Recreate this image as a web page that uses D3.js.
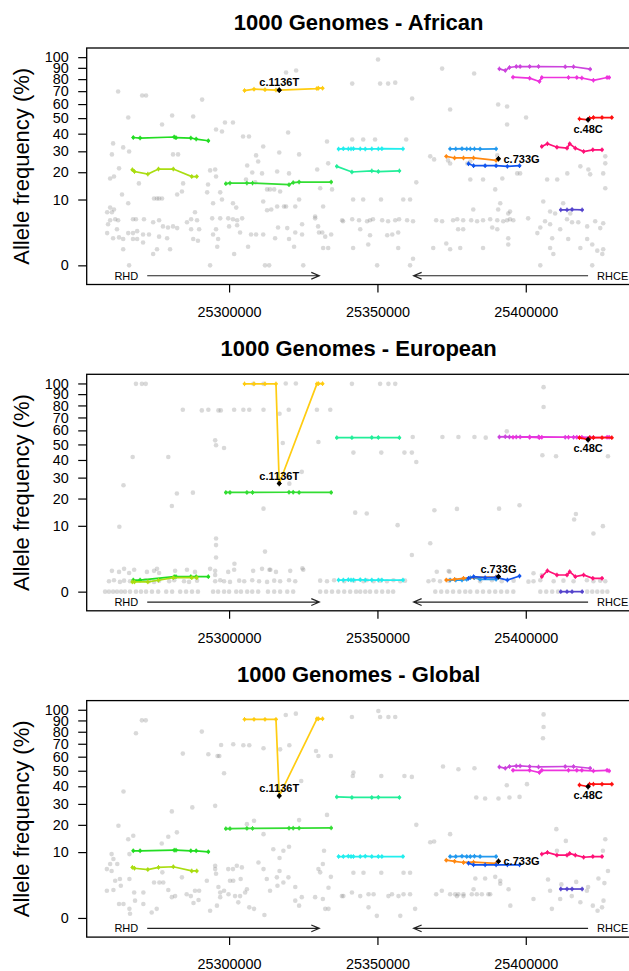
<!DOCTYPE html>
<html>
<head>
<meta charset="utf-8">
<script src="https://cdn.jsdelivr.net/npm/d3@7"></script>
<style>
  body { margin: 0; background: #fff; }
  svg { display: block; }
</style>
</head>
<body>
<svg id="chart"></svg>
<script>
/*------------------------
  ------ VARIABLES -------
  ------------------------*/

// input
var titles = ["1000 Genomes - African", "1000 Genomes - European", "1000 Genomes - Global"] ;
var y_label = "Allele frequency (%)" ;
var y_ticks = [0, 10, 20, 30, 40, 50, 60, 70, 80, 90, 100] ;
var x_ticks = [25300, 25350, 25400] ;   // kb

var gene_names = ["RHD", "RHCE"] ;
var gene_from  = [25272.4, 25421.0] ;
var gene_to    = [25330.4, 25362.2] ;

var mark_names = ["c.1136T", "c.733G", "c.48C"] ;
var mark_pos   = [25316.9, 25390.8, 25421.0] ;
var mark_afr   = [70.8, 26.2, 48.9] ;
var mark_eur   = [27.0, 0.52, 53.3] ;
var mark_glb   = [34.4, 7.4, 39.8] ;

// haplotype blocks
var hap_colors = ["#22dd22", "#aadd11", "#33dd33", "#ffcc11", "#22eeee", "#22ee99", "#2299ee",
                  "#ff8811", "#1155ee", "#cc44dd", "#ee33dd", "#ff1111", "#ff1177", "#5544cc"] ;
var hap_pos = [
  [25267.7, 25270.0, 25281.5, 25282.1, 25287.1, 25288.9, 25293.0],
  [25267.4, 25268.1, 25272.6, 25276.2, 25281.2, 25287.4, 25289.1],
  [25298.9, 25300.3, 25306.0, 25307.9, 25320.2, 25321.6, 25323.6, 25334.4],
  [25305.2, 25308.4, 25312.1, 25315.8, 25316.9, 25329.6, 25330.1, 25331.5],
  [25336.9, 25338.5, 25340.2, 25341.1, 25341.9, 25344.2, 25345.9, 25348.1, 25350.3, 25351.5, 25358.6],
  [25336.3, 25341.4, 25348.1, 25350.3, 25357.4],
  [25374.5, 25376.4, 25378.5, 25380.1, 25381.3, 25382.7, 25384.6, 25390.0],
  [25373.2, 25376.0, 25379.0, 25382.4, 25390.0, 25390.8],
  [25380.7, 25382.4, 25386.3, 25390.0, 25393.8, 25397.9],
  [25391.1, 25393.1, 25394.5, 25396.8, 25398.1, 25401.3, 25404.3, 25413.3, 25416.1, 25421.7],
  [25395.7, 25401.3, 25404.6, 25405.4, 25414.4, 25417.2, 25418.9, 25422.8, 25427.4, 25428.1],
  [25418.1, 25421.0, 25421.5, 25422.8, 25425.7, 25429.0],
  [25405.4, 25407.3, 25410.5, 25413.9, 25414.8, 25416.7, 25419.5, 25422.6, 25425.7],
  [25411.8, 25413.9, 25415.6, 25419.0]
] ;
var hap_afr = [
  [37.7, 37.4, 38.0, 37.6, 37.4, 36.8, 35.8],
  [21.1, 20.3, 19.2, 21.4, 21.4, 18.2, 18.2],
  [15.4, 15.6, 15.6, 15.6, 15.0, 15.8, 16.0, 16.0],
  [70.5, 71.6, 71.2, 70.9, 70.8, 72.1, 72.4, 72.4],
  [31.2, 31.4, 31.3, 31.3, 31.4, 31.3, 31.2, 31.3, 31.3, 31.4, 31.3],
  [22.6, 20.1, 20.6, 20.3, 20.6],
  [31.3, 31.3, 31.4, 31.3, 31.3, 31.3, 31.2, 31.3],
  [27.4, 26.6, 26.6, 26.6, 25.4, 26.2],
  [23.8, 22.9, 22.9, 22.9, 22.6, 22.9],
  [89.1, 87.6, 90.3, 91.2, 91.2, 91.2, 91.2, 91.0, 91.0, 88.8],
  [81.7, 80.8, 78.0, 81.4, 81.4, 81.4, 81.0, 79.0, 81.4, 81.4],
  [49.5, 48.9, 50.0, 50.4, 50.4, 50.4],
  [32.6, 34.1, 32.2, 31.7, 34.1, 31.7, 29.9, 30.8, 30.8],
  [7.1, 7.1, 7.2, 7.1]
] ;
var hap_eur = [
  [0.31, 0.31, 0.52, 0.52, 0.52, 0.52, 0.52],
  [0.22, 0.22, 0.22, 0.3, 0.45, 0.45, 0.45],
  [22.7, 22.7, 22.7, 22.7, 22.8, 22.8, 22.7, 22.7],
  [99.6, 99.6, 99.6, 99.6, 27.0, 99.6, 99.8, 99.8],
  [0.31, 0.31, 0.33, 0.31, 0.31, 0.33, 0.31, 0.31, 0.31, 0.31, 0.31],
  [54.7, 54.7, 54.8, 54.8, 54.7],
  [0.31, 0.31, 0.31, 0.35, 0.45, 0.45, 0.35, 0.35],
  [0.31, 0.35, 0.41, 0.47, 0.5, 0.52],
  [0.41, 0.52, 0.45, 0.47, 0.31, 0.56],
  [55.2, 55.4, 55.2, 55.2, 55.2, 55.2, 55.2, 55.0, 55.0, 54.7],
  [55.0, 55.0, 54.8, 55.0, 55.0, 55.0, 55.0, 54.8, 55.0, 55.0],
  [54.7, 53.3, 54.7, 54.7, 54.7, 54.7],
  [0.52, 1.01, 0.64, 0.64, 0.92, 0.52, 0.64, 0.41, 0.41],
  [0, 0, 0, 0]
] ;
var hap_glb = [
  [10.4, 10.4, 10.6, 10.6, 10.4, 10.4, 10.1],
  [5.9, 5.7, 5.4, 5.9, 6.05, 5.1, 5.1],
  [18.4, 18.4, 18.5, 18.5, 18.6, 18.6, 18.6, 18.7],
  [91.0, 91.0, 91.0, 91.0, 34.4, 91.5, 91.5, 91.5],
  [8.7, 8.7, 8.8, 8.7, 8.7, 8.7, 8.8, 8.7, 8.7, 8.7, 8.7],
  [33.8, 33.5, 33.5, 33.6, 33.5],
  [8.7, 8.7, 8.8, 8.7, 8.7, 8.8, 8.7, 8.7],
  [7.7, 7.4, 7.1, 7.2, 6.9, 7.4],
  [6.9, 6.5, 6.5, 6.5, 6.5, 6.5],
  [52.6, 51.7, 52.9, 53.3, 53.3, 52.9, 52.6, 52.9, 52.9, 51.7],
  [50.3, 50.3, 48.8, 50.3, 50.3, 50.3, 50.3, 49.9, 50.3, 49.9],
  [40.8, 39.8, 41.3, 41.3, 41.3, 41.3],
  [9.4, 9.9, 9.1, 9.1, 9.6, 9.1, 8.5, 8.7, 8.7],
  [1.93, 1.93, 1.93, 1.93]
] ;

// other variants [kb, %]
var gray_afr = [
[25262.6,69.7],[25270.7,66.5],[25272.0,66.5],[25266.0,50.4],[25280.8,51.8],[25287.9,51.1],[25290.9,63.4],[25277.4,45.8],
[25260.9,34.3],[25264.3,32.1],[25266.3,29.9],[25260.5,28.4],[25281.1,28.4],[25282.8,28.4],[25262.9,21.7],[25261.2,18.2],
[25259.9,17.4],[25284.5,15.5],[25269.6,15.5],[25284.1,12.6],[25282.5,11.6],[25263.9,11.6],[25266.0,8.9],[25274.7,10.3],
[25275.7,10.3],[25276.4,10.3],[25277.4,10.3],[25259.9,7.7],[25261.2,7.2],[25260.5,6.5],[25258.9,6.5],[25261.6,4.9],
[25262.6,4.7],[25259.9,4.7],[25259.2,3.9],[25262.2,3.0],[25258.9,2.4],[25260.9,1.7],[25262.9,1.8],[25264.3,1.6],
[25264.3,0.6],[25266.3,0],[25267.6,4.9],[25268.6,4.9],[25271.3,4.9],[25266.0,2.4],[25267.6,2.4],[25269.0,2.7],
[25271.0,2.2],[25273.0,2.2],[25267.6,1.6],[25269.0,1.6],[25271.0,1.2],[25274.4,4.3],[25276.4,4.7],[25277.7,3.5],
[25279.4,3.3],[25281.1,3.5],[25276.4,1.9],[25279.1,1.7],[25274.4,0.3],[25275.7,0.6],[25280.1,0.6],[25282.5,3.2],
[25285.8,4.3],[25287.2,4.9],[25289.2,4.7],[25288.5,6.5],[25287.2,3.0],[25289.9,3.0],[25287.9,1.6],[25289.5,1.4],
[25292.6,12.3],[25292.9,15.1],[25293.6,20.8],[25295.3,21.2],[25293.6,0],[25295.6,42.6],[25297.6,41.3],[25295.6,18.2],
[25297.0,12.3],[25297.6,10.0],[25294.6,8.9],[25294.3,5.1],[25297.0,5.1],[25295.6,3.0],[25294.6,2.2],[25296.3,1.6],
[25296.0,0.8],[25298.6,47.1],[25301.3,47.1],[25299.7,5.1],[25301.3,4.9],[25302.7,4.7],[25304.4,5.1],[25301.3,8.9],
[25302.4,7.7],[25300.0,3.5],[25302.7,3.7],[25303.7,2.5],[25301.7,0.3],[25304.7,38.3],[25306.7,38.3],[25306.1,23.0],
[25309.1,27.9],[25309.8,24.9],[25307.8,19.9],[25311.1,19.5],[25311.5,32.6],[25305.7,17.0],[25308.8,15.9],[25312.8,13.3],
[25313.8,13.3],[25315.2,13.3],[25314.2,7.2],[25311.5,9.4],[25312.8,7.0],[25316.2,8.0],[25318.5,8.0],[25319.2,8.0],
[25316.9,29.4],[25316.2,20.3],[25320.2,19.5],[25319.9,40.7],[25319.2,85.8],[25322.6,87.6],[25323.6,28.4],[25323.6,10.0],
[25317.2,12.6],[25322.3,8.0],[25316.5,3.3],[25319.6,3.2],[25322.3,2.5],[25324.6,3.9],[25307.4,2.2],[25309.1,2.2],
[25306.4,0.8],[25311.5,2.2],[25312.1,0],[25313.5,0],[25325.0,0],[25324.6,2.2],[25320.2,1.6],[25321.9,0.8],
[25315.5,1.7],[25329.7,21.2],[25329.0,5.1],[25330.0,3.5],[25330.3,2.5],
[25350.2,97.7],[25341.5,76.2],[25350.9,76.2],[25353.6,76.2],[25356.0,77.0],[25361.7,64.2],[25333.0,35.4],[25341.5,36.5],
[25345.2,36.5],[25349.2,36.5],[25359.7,36.5],[25333.4,24.0],[25363.1,15.9],[25330.7,13.7],[25334.7,13.3],[25331.7,8.0],
[25329.0,5.5],[25341.8,10.0],[25345.2,10.0],[25351.2,10.0],[25358.7,10.0],[25361.0,10.0],
[25338.1,4.7],[25338.4,4.5],[25341.5,4.9],[25343.8,4.7],[25346.5,4.5],[25347.5,4.7],[25348.5,4.9],[25351.6,4.7],
[25353.6,4.5],[25356.0,4.7],[25357.3,4.9],[25360.0,4.7],[25362.0,4.5],
[25331.4,2.5],[25332.4,1.9],[25334.4,2.2],[25344.2,3.0],[25347.5,2.1],[25353.3,2.1],[25355.0,2.2],[25357.0,2.5],
[25331.7,0.7],[25333.4,0.7],[25341.8,0.7],[25346.9,1.0],[25357.0,0.7],[25349.9,0],[25361.0,0],[25362.0,0.1],
[25371.8,89.3],[25382.6,84.9],[25374.5,56.0],[25390.7,59.7],[25393.7,58.2],[25393.7,45.8],[25400.1,50.4],
[25367.8,27.4],[25369.1,25.9],[25373.8,25.4],[25374.5,23.9],[25380.3,23.9],[25381.3,24.9],[25390.4,27.9],
[25381.3,17.0],[25385.6,17.0],[25389.7,13.3],[25392.1,17.4],[25397.1,19.5],[25398.1,19.5],[25407.2,17.0],[25410.6,17.0],
[25414.0,19.5],[25418.4,22.6],[25421.1,21.2],[25421.7,19.1],[25426.8,27.4],[25426.8,24.0],[25426.8,13.7],[25426.1,19.5],
[25382.3,7.2],[25391.4,8.9],[25390.7,7.2],[25394.7,6.7],[25394.1,6.2],[25400.8,5.1],[25405.9,9.4],[25408.2,6.7],
[25409.9,6.2],[25415.0,6.2],[25412.6,8.9],
[25369.8,4.7],[25371.8,4.5],[25375.5,4.7],[25376.9,4.9],[25378.9,4.7],[25381.6,4.7],[25383.6,4.5],[25385.6,4.7],
[25388.0,4.9],[25390.4,4.7],[25392.4,4.5],[25393.7,4.7],[25394.7,4.9],[25395.8,4.7],
[25390.4,3.0],[25388.7,3.3],[25406.5,4.5],[25408.2,3.9],[25411.6,3.0],[25413.9,4.9],[25415.6,4.3],[25417.7,4.3],
[25420.7,3.5],[25423.4,4.5],[25426.1,4.1],[25425.1,3.2],
[25368.8,0.7],[25373.2,1.1],[25374.5,0.6],[25377.9,0.7],[25377.2,3.0],[25378.9,3.0],[25385.6,0.7],[25394.1,1.7],
[25394.1,1.0],[25404.9,3.3],[25403.9,2.4],[25404.9,0],[25408.9,1.7],[25408.2,0.7],[25409.3,0.3],[25414.3,1.6],
[25418.4,0.7],[25420.7,1.6],[25422.4,1.0],[25424.1,0.5],[25425.8,0.3],[25426.1,0.6],[25422.4,0]
] ;

var gray_eur = [
[25268.6,99.6],[25270.6,99.6],[25271.9,99.6],[25267.5,41.8],[25264.4,26.1],[25263.0,9.7],[25279.5,41.8],[25282.4,22.2],
[25287.8,22.6],[25280.7,16.9],[25284.4,76.3],[25290.8,75.8],[25293.0,76.3],[25296.4,75.8],[25297.2,75.8],[25295.3,52.8],
[25295.6,49.4],[25298.3,47.6],[25295.6,6.5],[25295.6,5.0],[25295.6,2.7],[25295.3,0.64],[25301.7,76.3],[25304.8,76.3],
[25306.8,76.3],[25311.6,76.3],[25308.2,99.6],[25311.6,99.6],[25319.1,100],[25322.5,100],[25317.0,73.0],[25318.1,51.0],
[25320.1,76.3],[25324.5,33.1],[25320.3,26.9],[25311.6,15.9],[25312.1,3.7],[25313.6,1.1],[25301.8,1.8],[25324.7,1.25],
[25329.6,76.3],[25330.1,51.7],[25334.1,76.3],
[25341.4,99.6],[25350.9,99.6],[25353.7,99.6],[25356.0,99.6],[25361.9,55.2],[25341.9,44.6],[25351.3,44.6],[25359.1,44.6],
[25361.6,44.6],[25363.1,38.8],[25342.5,14.4],[25346.4,14.1],[25356.8,10.2],[25369.2,15.3],[25376.8,15.8],[25391.0,15.9],
[25397.9,17.2],[25367.8,5.4],[25374.3,0.92],[25371.9,55.2],[25377.3,55.2],[25382.7,55.2],[25386.5,54.7],[25393.6,59.3],
[25406.0,96.5],[25406.0,78.6],[25405.6,42.9],[25410.2,42.3],[25427.7,42.3],[25416.9,13.9],[25416.3,12.0],[25422.8,7.8],
[25426.0,9.9],[25400.9,0.23],
[25258.2,0],[25259.5,0],[25260.9,0],[25262.2,0],[25263.6,0],[25264.9,0],[25266.6,0],[25268.6,0],
[25270.3,0],[25272.0,0],[25274.0,0],[25276.1,0],[25278.8,0],[25280.8,0],[25283.5,0],[25285.5,0],
[25287.5,0],[25289.5,0],[25294.6,0],[25296.3,0],[25298.3,0],[25300.0,0],[25302.4,0],[25304.0,0],
[25306.1,0],[25307.8,0],[25309.8,0],[25313.1,0],[25315.2,0],[25317.2,0],[25319.6,0],[25321.6,0],
[25330.7,0],[25332.7,0],[25334.7,0],[25336.8,0],[25338.8,0],[25340.8,0],[25342.8,0],
[25344.2,0],[25345.9,0],[25347.5,0],[25349.6,0],[25351.6,0],[25353.6,0],[25355.3,0],
[25369.5,0],[25371.5,0],[25373.5,0],[25375.5,0],[25377.6,0],[25379.6,0],[25381.3,0],
[25383.6,0],[25385.6,0],[25387.7,0],[25389.7,0],[25391.7,0],[25393.7,0],[25395.8,0],
[25404.9,0],[25406.9,0],[25408.9,0],[25410.9,0],[25420.7,0],[25422.4,0],[25424.1,0],[25425.8,0],[25427.5,0],
[25259.5,0.25],[25261.2,0.3],[25263.2,0.22],[25264.6,0.28],[25266.6,0.25],[25271.7,0.3],[25273.0,0.25],[25274.7,0.22],
[25276.4,0.28],[25279.8,0.25],[25281.5,0.3],[25284.8,0.25],[25286.5,0.22],[25289.2,0.28],[25295.3,0.25],[25297.0,0.3],
[25298.3,0.25],[25300.3,0.22],[25303.4,0.28],[25305.1,0.25],[25307.8,0.3],[25310.1,0.25],[25312.8,0.22],[25315.2,0.28],
[25317.2,0.25],[25320.2,0.3],[25322.3,0.25],[25330.7,0.28],[25333.0,0.25],[25335.4,0.3],[25338.8,0.25],[25342.1,0.28],
[25345.3,0.25],[25346.4,0.3],[25348.7,0.25],[25350.9,0.28],[25353.2,0.25],[25355.4,0.3],[25357.7,0.25],[25359.3,0.28],
[25367.2,0.25],[25368.9,0.3],[25371.1,0.25],[25374.0,0.28],[25384.6,0.25],[25388.6,0.3],[25391.9,0.25],[25395.9,0.28],
[25402.6,0.25],[25404.9,0.3],[25409.4,0.25],[25412.7,0.28],[25416.1,0.25],[25420.6,0.3],[25422.8,0.25],[25425.1,0.28],[25426.8,0.25],
[25260.5,1.0],[25262.9,0.9],[25264.6,1.2],[25266.3,0.8],[25268.0,1.1],[25272.3,0.9],[25274.7,1.0],[25275.7,1.2],
[25276.4,0.8],[25281.8,1.0],[25285.8,1.1],[25288.5,0.9],[25293.6,1.2],[25295.3,1.0],[25299.7,0.9],[25301.7,1.1],
[25308.1,1.0],[25311.1,1.2],[25315.8,0.9],[25320.6,1.0],[25325.0,1.1],[25313.9,1.1],
[25370.0,0.92],[25374.0,0.98],[25402.6,0.78],[25405.4,0.64],[25361.6,3.1]
] ;

var gray_glb = [
[25270.6,90.1],[25271.9,90.1],[25268.6,78.7],[25290.8,80.1],[25284.4,62.3],[25293.0,61.8],[25296.1,60.5],[25296.7,60.5],
[25297.3,69.0],[25298.3,48.3],[25295.3,29.0],[25287.6,28.2],[25280.7,26.2],[25264.4,36.9],[25262.7,19.6],[25282.4,16.9],
[25279.5,15.2],[25277.3,12.8],[25267.7,15.6],[25266.0,14.3],[25260.4,9.4],[25261.0,8.0],[25262.3,6.7],[25259.9,6.7],
[25258.8,5.5],[25260.4,5.1],[25263.2,3.5],[25261.6,3.2],[25263.5,2.4],[25258.8,1.7],[25261.0,1.8],[25262.9,0.45],
[25264.4,0.45],[25266.6,0.04],[25266.4,0.19],[25266.4,9.4],[25266.4,3.5],[25268.0,1.5],[25271.1,1.5],[25268.3,0.69],
[25271.1,0.45],[25273.9,0.07],[25275.6,0.19],[25274.7,2.9],[25276.5,2.9],[25277.8,2.9],[25277.5,4.8],[25279.5,1.8],
[25280.7,1.0],[25281.8,1.1],[25284.1,3.8],[25285.7,1.3],[25287.1,1.1],[25288.0,0.52],[25288.5,1.7],[25289.7,0.74],
[25289.9,1.7],[25292.5,3.2],[25295.3,5.5],[25295.6,4.5],[25296.4,2.2],[25297.0,1.0],[25295.9,0.35],[25293.6,0.12],
[25295.3,6.3],[25297.0,1.5],[25298.3,1.7],[25299.8,1.3],[25301.4,3.2],[25302.0,1.1],[25303.7,1.1],[25305.4,1.5],
[25306.0,1.9],[25300.3,3.2],[25303.9,3.5],[25303.1,0.56],[25306.8,0.26],[25308.4,0.19],[25311.9,0.02],[25304.8,68.8],
[25306.8,68.8],[25308.4,21.8],[25311.6,66.4],[25306.0,20.3],[25311.6,16.2],[25309.9,7.1],[25311.6,5.5],[25312.7,3.5],
[25313.8,1.7],[25316.1,3.8],[25317.0,5.1],[25316.3,2.4],[25318.3,2.9],[25320.0,3.8],[25322.3,2.2],[25322.3,0.69],
[25324.5,1.0],[25323.6,0.35],[25314.9,10.9],[25317.0,8.3],[25318.3,10.4],[25320.2,11.7],[25319.1,95.0],[25322.5,96.3],
[25320.3,68.8],[25323.6,22.1],[25324.3,43.3],[25329.0,1.0],[25330.1,5.5],[25329.3,64.3],[25330.1,60.5],[25301.4,69.6],
[25317.2,65.6],[25299.7,5.5],[25301.3,5.5],[25302.6,6.3],[25304.3,5.9],
[25350.3,98.8],[25350.9,93.1],[25353.7,93.1],[25356.0,93.1],[25341.4,93.1],[25334.3,60.5],
[25341.9,48.8],[25341.7,46.5],[25351.3,46.5],[25359.1,46.5],[25361.6,45.9],[25333.0,24.5],[25363.1,20.0],[25332.0,10.4],
[25330.7,4.8],[25331.6,6.7],[25334.3,3.9],[25333.5,2.1],[25331.6,0.83],[25332.4,0.19],[25333.5,0.19],
[25341.9,4.7],[25345.3,4.7],[25351.3,4.7],[25358.8,4.7],[25361.0,4.7],[25344.2,1.1],[25347.0,1.3],[25353.7,1.1],
[25357.1,1.1],[25338.0,1.1],[25338.5,1.1],[25341.4,1.5],[25348.7,1.3],[25354.9,1.3],[25358.8,1.3],[25361.0,1.3],
[25347.0,0.26],[25349.8,0.01],[25357.7,0.01],[25362.7,0.19],
[25372.1,52.9],[25377.3,51.0],[25382.7,51.7],[25386.3,32.9],[25383.3,33.5],[25390.8,32.9],[25394.5,33.5],[25397.9,33.8],
[25393.6,40.6],[25400.4,41.3],[25367.8,13.2],[25369.1,13.5],[25374.5,16.2],[25389.7,3.9],[25386.3,3.6],[25383.0,3.6],
[25391.4,3.2],[25406.0,95.6],[25406.0,84.1],[25405.8,74.5],[25410.3,18.2],[25413.5,13.7],[25410.5,10.4],[25426.8,14.3],
[25426.0,10.4],[25427.7,5.1],
[25369.8,1.3],[25371.7,1.7],[25376.8,1.1],[25379.0,1.1],[25382.4,1.9],[25387.4,1.3],[25391.4,2.7],[25394.2,1.9],
[25394.8,0.35],[25402.6,0.83],[25408.2,1.7],[25408.8,0.19],[25411.6,0.83],[25415.5,1.1],[25418.4,0.57],[25420.6,1.7],
[25422.6,0.35],[25424.2,0.12],[25425.7,0.26],[25426.2,0.69],
[25374.5,1.3],[25376.2,1.3],[25377.3,1.3],[25379.0,1.3],[25381.8,1.3],[25383.5,1.3],[25385.2,1.3],[25388.0,1.3],
[25407.5,3.4],[25412.0,2.6],[25417.0,3.0],[25421.0,2.2],[25424.5,3.6],[25426.5,2.8]
] ;

// display
var svg_w = 629, svg_h = 971 ;
var plot = {left: 86.7, right: 630.5, top: 48, height: 236.5, step: 326.3} ;
var font = '"Liberation Sans", Arial, Helvetica, sans-serif' ;
var x_dom = [25252.0, 25435.3] ;          // kb
var y_dom = [-0.8464, 108.99] ;           // percent, shown on a sqrt scale
var x, svg ;


function init() {
    svg = d3.select("#chart")
        .attr("width", svg_w)
        .attr("height", svg_h)
        .attr("font-family", font) ;

    x = d3.scaleLinear().domain(x_dom).range([plot.left, plot.right]) ;
}

/*---------------------
  --- PANEL HELPERS ---
  ---------------------*/
function panel_top(p) {
    return plot.top + p * plot.step ;
}
function panel_bot(p) {
    return panel_top(p) + plot.height ;
}
function y_scale(p) {
    return d3.scaleSqrt().domain(y_dom).range([panel_bot(p), panel_top(p)]) ;
}
function gray_data(p) {
    return [gray_afr, gray_eur, gray_glb][p] ;
}
function hap_data(p) {
    var vals = [hap_afr, hap_eur, hap_glb][p] ;
    return hap_pos.map(function(pos, i) {
        return {color: hap_colors[i],
                pts: pos.map(function(k, j) { return [k, vals[i][j]] ; })} ;
    }) ;
}
function mark_data(p) {
    var vals = [mark_afr, mark_eur, mark_glb][p] ;
    return mark_names.map(function(n, i) {
        return {name: n, pos: mark_pos[i], val: vals[i]} ;
    }) ;
}
function mark_side(m, p) {
    if (m.name == "c.1136T") return "top" ;
    if (m.name == "c.48C") return "bottom" ;
    return p == 1 ? "top" : "right" ;
}

/*---------------------
  --- DISPLAY PANEL ---
  ---------------------*/
function display_panel(p) {
    var y = y_scale(p) ;
    var g = svg.append("g").attr("class", "panel") ;

    // title
    g.append("text")
        .attr("x", (plot.left + plot.right) / 2)
        .attr("y", panel_top(p) - 18.3)
        .attr("text-anchor", "middle")
        .attr("font-size", 22)
        .attr("font-weight", "bold")
        .text(titles[p]) ;

    // y label
    g.append("text")
        .attr("transform", "translate(29," + ((panel_top(p) + panel_bot(p)) / 2) + ") rotate(-90)")
        .attr("text-anchor", "middle")
        .attr("font-size", 22)
        .text(y_label) ;

    // other variants
    g.append("g").selectAll("circle")
        .data(gray_data(p))
        .enter()
        .append("circle")
        .attr("cx", function(d) { return x(d[0]) ; })
        .attr("cy", function(d) { return y(d[1]) ; })
        .attr("r", 2.3)
        .attr("fill", "#808080")
        .attr("fill-opacity", 0.3) ;

    // haplotype lines
    var line = d3.line()
        .x(function(d) { return x(d[0]) ; })
        .y(function(d) { return y(d[1]) ; }) ;

    var h = g.append("g").selectAll(".hap")
        .data(hap_data(p))
        .enter()
        .append("g")
        .attr("class", "hap") ;

    h.append("path")
        .attr("d", function(d) { return line(d.pts) ; })
        .attr("fill", "none")
        .attr("stroke", function(d) { return d.color ; })
        .attr("stroke-width", 1.7) ;

    h.each(function(d) {
        var pts = d3.select(this).selectAll(".pt")
            .data(d.pts)
            .enter()
            .append("g")
            .attr("class", "pt")
            .attr("transform", function(q) { return "translate(" + x(q[0]) + "," + y(q[1]) + ")" ; }) ;
        pts.append("circle")
            .attr("r", 1.7)
            .attr("fill", d.color) ;
        pts.append("path")
            .attr("d", "M-1.8,0H1.8M0,-2.3V2.3")
            .attr("stroke", d.color)
            .attr("stroke-width", 1) ;
    }) ;

    // named variants
    var m = g.append("g").selectAll(".mark")
        .data(mark_data(p))
        .enter()
        .append("g")
        .attr("class", "mark")
        .attr("transform", function(d) { return "translate(" + x(d.pos) + "," + y(d.val) + ")" ; }) ;
    m.append("circle").attr("r", 2.1).attr("fill", "black") ;
    m.append("path")
        .attr("d", "M-2.4,0H2.4M0,-2.8V2.8")
        .attr("stroke", "black")
        .attr("stroke-width", 1.1) ;
    m.append("text")
        .attr("font-size", 11)
        .attr("font-weight", "bold")
        .attr("text-anchor", function(d) { return mark_side(d, p) == "right" ? "start" : "middle" ; })
        .attr("x", function(d) { return mark_side(d, p) == "right" ? 5 : 0 ; })
        .attr("y", function(d) {
            var s = mark_side(d, p) ;
            return s == "top" ? -3.8 : (s == "bottom" ? 12.8 : 4) ;
        })
        .text(function(d) { return d.name ; }) ;

    // genes
    var gy = y(-0.25) ;
    gene_names.forEach(function(n, i) {
        var x1 = x(gene_from[i]), x2 = x(gene_to[i]) ;
        var dir = x2 > x1 ? 1 : -1 ;
        g.append("path")
            .attr("d", "M" + x1 + "," + gy + "H" + x2 +
                       "M" + (x2 - 8 * dir) + "," + (gy - 3.4) + "L" + x2 + "," + gy +
                       "L" + (x2 - 8 * dir) + "," + (gy + 3.4))
            .attr("fill", "none")
            .attr("stroke", "#222")
            .attr("stroke-width", 1.2) ;
        g.append("text")
            .attr("x", x1 - 9 * dir)
            .attr("y", gy + 4)
            .attr("text-anchor", dir > 0 ? "end" : "start")
            .attr("font-size", 11)
            .text(n) ;
    }) ;

    // axes
    var ya = g.append("g")
        .attr("transform", "translate(" + plot.left + ",0)")
        .call(d3.axisLeft(y).tickValues(y_ticks).tickSize(8.5).tickPadding(9.5).tickSizeOuter(0)) ;
    var xa = g.append("g")
        .attr("transform", "translate(0," + panel_bot(p) + ")")
        .call(d3.axisBottom(x).tickValues(x_ticks).tickSize(8).tickPadding(14).tickSizeOuter(0)
              .tickFormat(function(d) { return d3.format("d")(d * 1000) ; })) ;
    [ya, xa].forEach(function(a) {
        a.select(".domain").remove() ;
        a.attr("font-family", font).attr("font-size", 14.4) ;
        a.selectAll("line").attr("stroke", "black").attr("stroke-width", 1.2) ;
        a.selectAll("text").attr("fill", "black") ;
    }) ;

    // frame
    g.append("rect")
        .attr("x", plot.left)
        .attr("y", panel_top(p))
        .attr("width", plot.right - plot.left)
        .attr("height", plot.height)
        .attr("fill", "none")
        .attr("stroke", "black")
        .attr("stroke-width", 1.3) ;
}

/*------------------
  ------ RUN -------
  ------------------*/

init() ;
for (var p = 0 ; p < titles.length ; p++) {
    display_panel(p) ;
}
</script>
</body>
</html>
